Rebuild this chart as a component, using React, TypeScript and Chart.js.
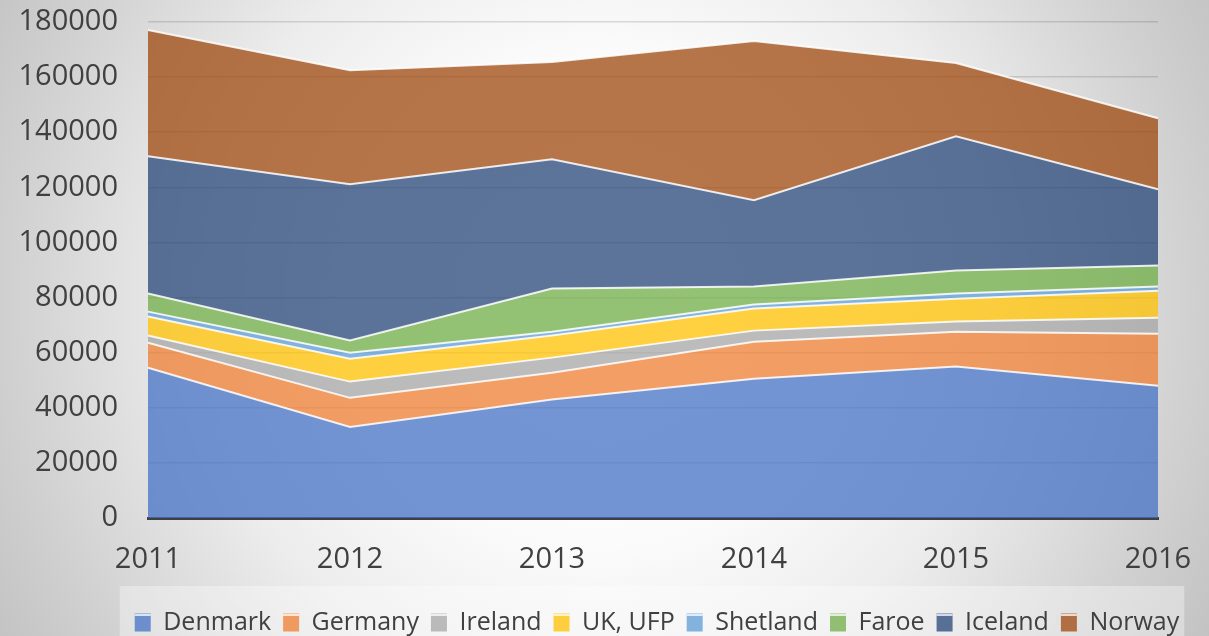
import React, { useEffect, useRef } from 'react';
import { Chart, registerables } from 'chart.js';

Chart.register(...registerables);

const years = ['2011', '2012', '2013', '2014', '2015', '2016'];
const denmark = [54500, 33000, 43000, 50500, 55000, 48000];
const germany = [9100, 10600, 9700, 13500, 12600, 18900];
const ireland = [2600, 5900, 5500, 4000, 3700, 5800];
const ukUfp = [6900, 8300, 8000, 8000, 8300, 9800];
const shetland = [1800, 2200, 1400, 1500, 1900, 1500];
const faroe = [6600, 4400, 15700, 6500, 8300, 7600];
const iceland = [49800, 56700, 46900, 31300, 48700, 27700];
const norway = [45800, 41400, 35300, 57800, 26600, 25800];

const seriesNames = ['Denmark', 'Germany', 'Ireland', 'UK, UFP', 'Shetland', 'Faroe', 'Iceland', 'Norway'];
const seriesValues = [denmark, germany, ireland, ukUfp, shetland, faroe, iceland, norway];
const seriesColors = [
  'rgba(68,114,196,0.75)',
  'rgba(237,125,49,0.75)',
  'rgba(165,165,165,0.75)',
  'rgba(255,192,0,0.75)',
  'rgba(91,155,213,0.75)',
  'rgba(112,173,71,0.75)',
  'rgba(38,68,120,0.75)',
  'rgba(158,72,14,0.75)',
];

const FONT = '"Open Sans", "DejaVu Sans", sans-serif';
const LEGEND_SHIFT = 69;
const LEGEND_FONT = 25;
const BOX_H = 18;

const backgroundPlugin = {
  id: 'bgPlugin',
  afterLayout(chart: any) {
    const lg = chart.legend;
    if (lg) {
      lg.left += LEGEND_SHIFT;
      lg.right += LEGEND_SHIFT;
    }
  },
  beforeDraw(chart: any) {
    const { ctx, width, height } = chart;
    ctx.save();
    const g = ctx.createRadialGradient(600, 300, 0, 600, 300, 700);
    g.addColorStop(0, '#ffffff');
    g.addColorStop(0.35, '#fbfbfb');
    g.addColorStop(0.58, '#ececec');
    g.addColorStop(0.85, '#d0d0d0');
    g.addColorStop(1, '#c2c2c2');
    ctx.fillStyle = g;
    ctx.fillRect(0, 0, width, height);
    const legend = chart.legend;
    if (legend && legend.legendHitBoxes && legend.legendHitBoxes.length) {
      const boxes = legend.legendHitBoxes;
      const left = Math.min(...boxes.map((b: any) => b.left)) - 15;
      const right = Math.max(...boxes.map((b: any) => b.left + b.width)) + 5;
      const top = Math.min(...boxes.map((b: any) => b.top)) - 24;
      ctx.fillStyle = 'rgba(255,255,255,0.35)';
      ctx.fillRect(left, top, right - left, height - top);
    }
    ctx.restore();
  },
  afterDraw(chart: any) {
    const { ctx } = chart;
    const legend = chart.legend;
    if (!legend || !legend.legendHitBoxes) return;
    ctx.save();
    ctx.strokeStyle = 'rgba(255,255,255,0.75)';
    ctx.lineWidth = 2;
    legend.legendHitBoxes.forEach((b: any) => {
      const x = b.left;
      const y = b.top + (Math.max(LEGEND_FONT, BOX_H) - BOX_H) / 2 + 1.5;
      ctx.beginPath();
      ctx.moveTo(x, y);
      ctx.lineTo(x + 16, y);
      ctx.stroke();
    });
    ctx.restore();
  },
};

export default function App() {
  const ref = useRef<HTMLCanvasElement | null>(null);
  useEffect(() => {
    if (!ref.current) return;
    const chart = new Chart(ref.current, {
      type: 'line',
      data: {
        labels: years,
        datasets: seriesNames.map((name, i) => ({
          label: name,
          data: seriesValues[i],
          backgroundColor: seriesColors[i],
          borderColor: 'rgba(255,255,255,0.85)',
          borderWidth: 2,
          fill: i === 0 ? 'origin' : '-1',
          pointRadius: 0,
          tension: 0,
        })),
      },
      options: {
        animation: false,
        responsive: true,
        maintainAspectRatio: false,
        layout: { padding: { left: 18, right: 51, top: 22, bottom: 0 } },
        plugins: {
          tooltip: { enabled: false },
          legend: {
            position: 'bottom',
            labels: {
              font: { family: FONT, size: LEGEND_FONT },
              color: '#404040',
              boxWidth: 16,
              boxHeight: BOX_H,
              padding: 12,
              generateLabels: (c: any) =>
                c.data.datasets.map((d: any, i: number) => ({
                  text: d.label,
                  fillStyle: d.backgroundColor,
                  strokeStyle: 'rgba(0,0,0,0)',
                  lineWidth: 0,
                  hidden: false,
                  datasetIndex: i,
                  fontColor: '#404040',
                })),
            },
          },
        },
        scales: {
          x: {
            type: 'category',
            offset: false,
            stacked: true,
            grid: { display: false, drawTicks: false },
            border: { color: '#3f3f3f', width: 3 },
            ticks: { font: { family: FONT, size: 29 }, color: '#404040', padding: 24, maxRotation: 0 },
            afterFit: (s: any) => {
              s.height = 80;
              s.paddingLeft = 0;
              s.paddingRight = 0;
            },
          },
          y: {
            stacked: true,
            min: 0,
            max: 180000,
            grid: { color: 'rgba(0,0,0,0.13)', drawTicks: false, lineWidth: 1.5 },
            border: { display: false },
            ticks: {
              stepSize: 20000,
              font: { family: FONT, size: 29 },
              color: '#404040',
              padding: 30,
              callback: (v: any) => String(v),
            },
            afterFit: (s: any) => {
              s.width = 130;
              s.paddingTop = 0;
              s.paddingBottom = 0;
            },
          },
        },
      },
      plugins: [backgroundPlugin],
    } as any);
    return () => chart.destroy();
  }, []);
  return (
    <div style={{ position: 'fixed', left: 0, top: 0, width: 1209, height: 645 }}>
      <canvas ref={ref} />
    </div>
  );
}
